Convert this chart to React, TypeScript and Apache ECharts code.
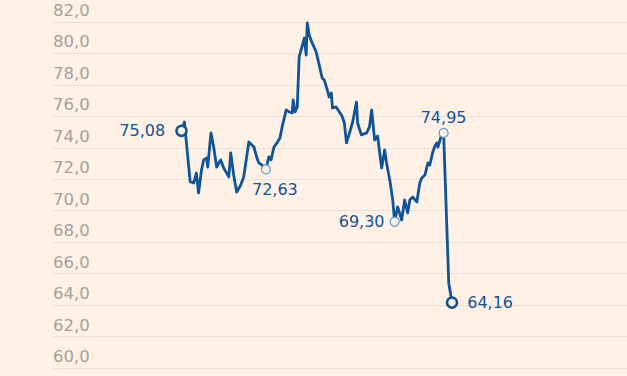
import React, { useEffect, useRef } from "react";
import * as echarts from "echarts";

// Trading-day position (estimated) and price
const days = [
  0, 1.1, 3.2, 4.5, 5.5, 6.3, 7.4, 8.2, 9.3, 9.7,
  10.9, 11.9, 13, 14.5, 15.6, 17.5, 18.2, 19.3, 20.4, 21.9,
  23, 24.2, 24.9, 26.8, 27.9, 28.6, 29.7, 31.2, 32.3, 33.1,
  34.2, 35.3, 36.4, 37.2, 38.7, 39.8, 40.9, 41.3, 42, 42.8,
  43.5, 45.4, 46.1, 46.5, 47.2, 48.3, 49.8, 50.9, 52, 52.8,
  53.9, 54.6, 55.4, 55.8, 57.2, 59.1, 59.5, 60.2, 61, 62.1,
  63.2, 64.7, 65.1, 66.5, 68.4, 69.5, 70.3, 71.4, 72.5, 74,
  75.1, 75.8, 77, 78.1, 78.8, 79.9, 81.4, 82.5, 83.6, 84.4,
  85.5, 87, 88.1, 88.8, 90, 91.1, 91.8, 92.9, 93.7, 94.4,
  94.8, 95.9, 96.9, 98.8, 100,
];
const prices = [
  75.08, 75.64, 71.85, 71.76, 72.4, 71.13, 72.59, 73.23, 73.35, 72.78,
  74.95, 74.05, 72.78, 73.23, 72.72, 72.15, 73.67, 72.27, 71.19, 71.64,
  72.15, 73.54, 74.37, 74.05, 73.35, 73.04, 72.91, 72.63, 73.42, 73.23,
  74.05, 74.31, 74.63, 75.33, 76.41, 76.28, 76.21, 77.04, 76.28, 76.6,
  79.78, 80.98, 79.9, 81.94, 81.17, 80.67, 80.09, 79.27, 78.44, 78.31,
  77.68, 77.23, 77.49, 76.53, 76.6, 76.09, 75.96, 75.58, 74.31, 74.94,
  75.58, 76.91, 75.58, 74.82, 74.94, 75.33, 76.41, 74.5, 74.75, 72.72,
  73.86, 73.04, 71.96, 70.68, 69.3, 70.24, 69.41, 70.68, 69.86, 70.68,
  70.87, 70.56, 71.77, 72.08, 72.27, 73.04, 72.91, 73.74, 74.12, 74.31,
  74.05, 74.69, 74.95, 65.41, 64.16,
];
// Annotated points (indices into the arrays above)
const endpointIdx = [0, 94];
const midpointIdx = [27, 74, 92];

const yMin = 60;
const yMax = 82;
const yStep = 2;

const BG = "#fff1e5";
const BLUE = "#0f5499";
const LIGHT_BLUE = "#5d9fd3";
const FONT = "DejaVu Sans";

const labelPlacement: Record<number, any> = {
  0: { position: "left", distance: 10 },
  27: { position: "bottom", distance: 7, offset: [9, 0] },
  74: { position: "left", distance: 5 },
  92: { position: "top", distance: 2 },
  94: { position: "right", distance: 9 },
};

const fmt = (v: number, d: number) => v.toFixed(d).replace(".", ",");

export default function App() {
  const ref = useRef<HTMLDivElement>(null);
  useEffect(() => {
    if (!ref.current) return;
    const chart = echarts.init(ref.current, undefined, { renderer: "svg" });
    const lineData = days.map((d, i) => [d, prices[i]]);
    const mkPoint = (i: number, heavy: boolean) => ({
      value: [days[i], prices[i]],
      symbolSize: heavy ? 10 : 9,
      itemStyle: {
        color: BG,
        borderColor: heavy ? BLUE : LIGHT_BLUE,
        borderWidth: heavy ? 2.5 : 1.2,
        opacity: 1,
      },
      label: {
        show: true,
        formatter: fmt(prices[i], 2),
        color: BLUE,
        opacity: 1,
        fontFamily: FONT,
        fontSize: 16,
        ...labelPlacement[i],
      },
    });
    chart.setOption({
      animation: false,
      backgroundColor: BG,
      grid: { left: 53, right: 0, top: 22, bottom: 8, containLabel: false },
      xAxis: {
        type: "value",
        min: -47.5,
        max: 164.7,
        show: false,
        splitLine: { show: false },
      },
      yAxis: {
        type: "value",
        min: yMin,
        max: yMax,
        interval: yStep,
        axisLine: { show: false },
        axisTick: { show: false },
        splitLine: { show: true, lineStyle: { color: "#ebe0d6", width: 1 } },
        axisLabel: {
          inside: true,
          margin: 0,
          verticalAlign: "bottom",
          padding: [0, 0, 3, 0],
          color: "#a3a09d",
          fontFamily: FONT,
          fontSize: 16.5,
          formatter: (v: number) => fmt(v, 1),
        },
      },
      series: [
        {
          type: "line",
          data: lineData,
          symbol: "none",
          lineStyle: { color: BLUE, width: 2.8, join: "round" },
          z: 2,
        },
        {
          type: "scatter",
          data: [
            ...midpointIdx.map((i) => mkPoint(i, false)),
            ...endpointIdx.map((i) => mkPoint(i, true)),
          ],
          symbol: "circle",
          itemStyle: { opacity: 1 },
          z: 3,
        },
      ],
    });
    return () => chart.dispose();
  }, []);
  return (
    <div
      ref={ref}
      style={{ position: "absolute", left: 0, top: 0, width: 627, height: 376 }}
    />
  );
}
